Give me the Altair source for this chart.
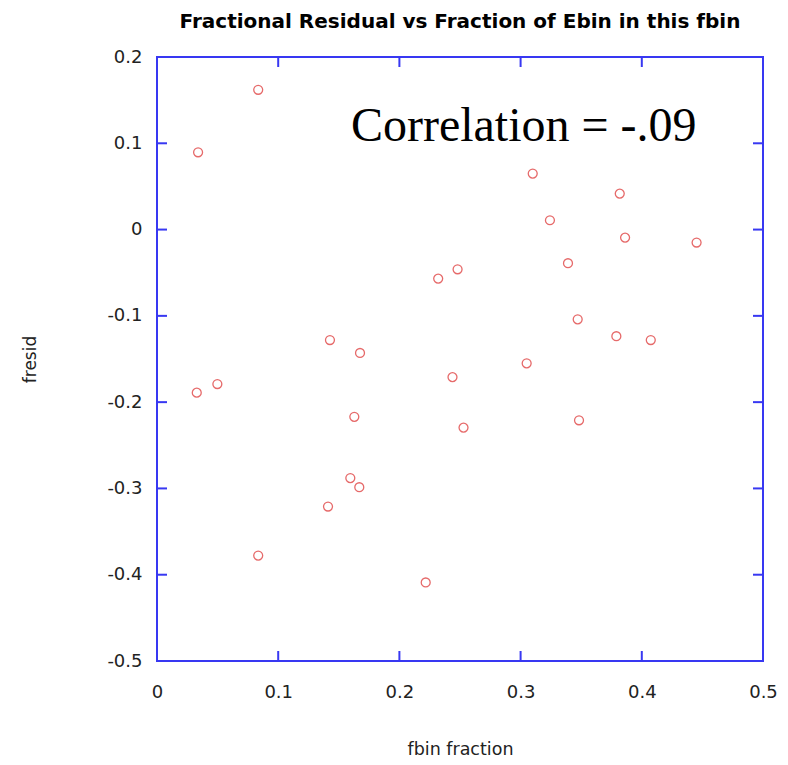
import altair as alt
import pandas as pd

# Data
fbin_fraction = [0.0835, 0.0339, 0.232, 0.248, 0.1427, 0.1675, 0.310, 0.3818,
                 0.3242, 0.3862, 0.4452, 0.3391, 0.3471, 0.379, 0.4074, 0.305,
                 0.0328, 0.0498, 0.2438, 0.1628, 0.2529, 0.1595, 0.1669, 0.1411,
                 0.0835, 0.2217, 0.3482]
fresid = [0.162, 0.0896, -0.0568, -0.046, -0.128, -0.143, 0.0649, 0.0417,
          0.0108, -0.0093, -0.015, -0.039, -0.104, -0.1236, -0.128, -0.155,
          -0.189, -0.179, -0.171, -0.217, -0.2295, -0.288, -0.2986, -0.321,
          -0.3778, -0.409, -0.221]

x_labels = [0, 0.1, 0.2, 0.3, 0.4, 0.5]
y_labels = [0.2, 0.1, 0, -0.1, -0.2, -0.3, -0.4, -0.5]
x_inner_ticks = [0.1, 0.2, 0.3, 0.4]
y_inner_ticks = [0.1, 0, -0.1, -0.2, -0.3, -0.4]

note_text = ["Correlation = -.09"]
note_x = [0.160]
note_y = [0.1027]

W, H = 606, 604
BLUE = "#3838f2"
RED = "#e66a6a"
FONT = "DejaVu Sans"

points = pd.DataFrame({"x": fbin_fraction, "y": fresid})
xt = pd.DataFrame({"x": x_inner_ticks})
yt = pd.DataFrame({"y": y_inner_ticks})
note = pd.DataFrame({"x": note_x, "y": note_y, "t": note_text})

xscale = alt.Scale(domain=[0, 0.5], nice=False, zero=False)
yscale = alt.Scale(domain=[-0.5, 0.2], nice=False, zero=False)

xaxis = alt.Axis(values=x_labels, labelExpr="'' + datum.value", domain=False,
                 ticks=False, tickSize=0, grid=False, labelFont=FONT,
                 labelFontSize=18, labelColor="#222", labelPadding=36,
                 labelBaseline="alphabetic", labelFlush=False, labelOverlap=False,
                 title="fbin fraction", titleFont=FONT, titleFontSize=17.5,
                 titleFontWeight="normal", titleColor="#222", titleX=W / 2,
                 titleY=93, titleBaseline="alphabetic", titleAlign="center")
yaxis = alt.Axis(values=y_labels, labelExpr="'' + datum.value", domain=False,
                 ticks=False, tickSize=0, grid=False, labelFont=FONT,
                 labelFontSize=18, labelColor="#222", labelPadding=15,
                 labelFlush=False, labelOverlap=False,
                 title="fresid", titleFont=FONT, titleFontSize=17,
                 titleFontWeight="normal", titleColor="#222", titleAngle=270,
                 titleX=-122, titleY=H / 2, titleBaseline="alphabetic",
                 titleAlign="center")

pts = alt.Chart(points).mark_point(shape="circle", filled=False, color=RED,
                                   size=80, strokeWidth=1.3, opacity=1).encode(
    x=alt.X("x:Q", scale=xscale, axis=xaxis),
    y=alt.Y("y:Q", scale=yscale, axis=yaxis),
)

rule_kw = dict(color=BLUE, strokeWidth=2)
bottom = alt.Chart(xt).mark_rule(**rule_kw).encode(
    x=alt.X("x:Q", scale=xscale, axis=xaxis), y=alt.value(H), y2=alt.value(H - 10))
top = alt.Chart(xt).mark_rule(**rule_kw).encode(
    x=alt.X("x:Q", scale=xscale, axis=xaxis), y=alt.value(0), y2=alt.value(10))
left = alt.Chart(yt).mark_rule(**rule_kw).encode(
    y=alt.Y("y:Q", scale=yscale, axis=yaxis), x=alt.value(0), x2=alt.value(10))
right = alt.Chart(yt).mark_rule(**rule_kw).encode(
    y=alt.Y("y:Q", scale=yscale, axis=yaxis), x=alt.value(W - 10), x2=alt.value(W))

txt = alt.Chart(note).mark_text(align="left", baseline="alphabetic",
                                font="Liberation Serif", fontSize=48,
                                color="black").encode(
    x=alt.X("x:Q", scale=xscale, axis=xaxis),
    y=alt.Y("y:Q", scale=yscale, axis=yaxis),
    text="t:N",
)

chart = alt.layer(pts, bottom, top, left, right, txt).properties(
    width=W, height=H,
    title=alt.TitleParams("Fractional Residual vs Fraction of Ebin in this fbin",
                          font=FONT, fontSize=20, fontWeight="bold",
                          anchor="middle", frame="group", offset=16,
                          color="black"),
    autosize=alt.AutoSizeParams(type="none"),
    padding={"left": 149, "top": 49, "right": 15, "bottom": 96},
    background="white",
).configure_view(stroke=BLUE, strokeWidth=2)

chart.save("out.html", embed_options={"renderer": "svg", "actions": False})
